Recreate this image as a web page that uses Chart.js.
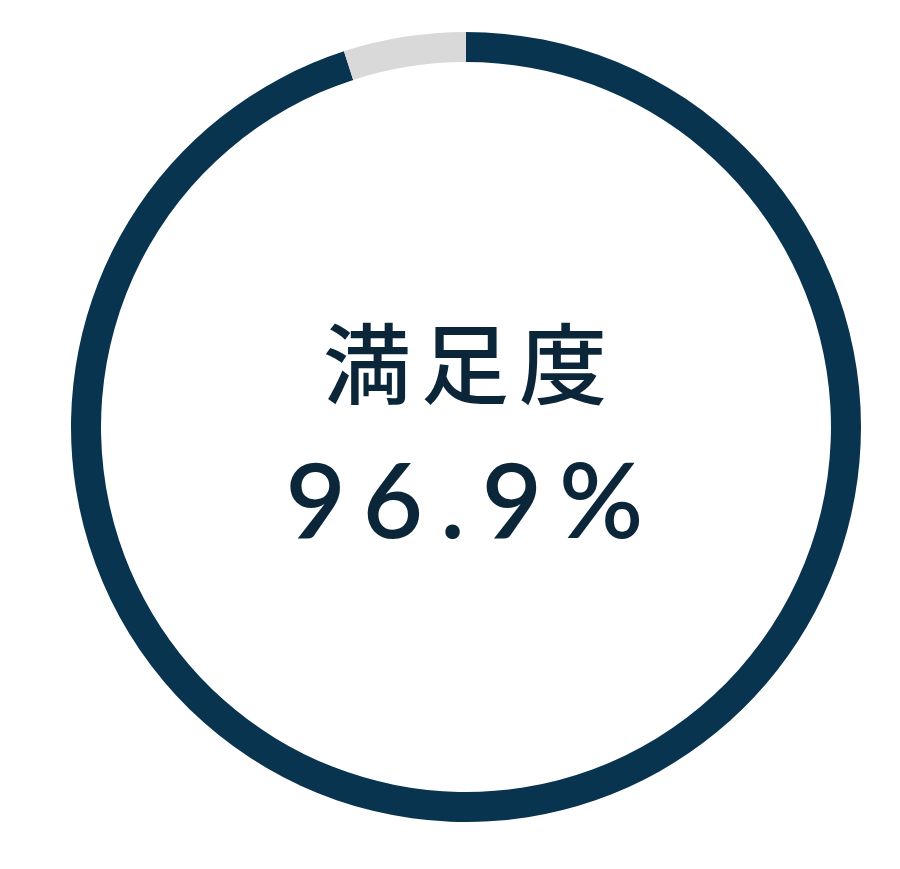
<!DOCTYPE html>
<html>
<head>
<meta charset="utf-8">
<script src="https://cdn.jsdelivr.net/npm/chart.js@4/dist/chart.umd.min.js"></script>
<style>
  html, body { margin: 0; padding: 0; background: #ffffff; width: 900px; height: 869px; overflow: hidden; }
  #wrap { position: absolute; left: 71px; top: 32px; width: 790px; height: 790px; }
  .lbl { position: absolute; left: 0; width: 900px; text-align: center; color: #0c2639; white-space: nowrap; box-sizing: border-box; }
  #title { top: 304px; font-family: "Noto Sans CJK JP", "Noto Sans CJK SC", sans-serif; font-weight: 500; font-size: 88px; line-height: 110px; letter-spacing: 10px; padding-left: 40px; }
  #value { top: 433px; font-family: Lato, "Open Sans", sans-serif; font-weight: 600; font-size: 104px; line-height: 130px; letter-spacing: 17px; padding-left: 46px; }
</style>
</head>
<body>
<div id="wrap"><canvas id="c"></canvas></div>
<div id="title" class="lbl">満足度</div>
<div id="value" class="lbl">96.9%</div>
<script>
const categories = ["満足", "その他"];
const shares = [95, 5];
const colors = ["#08344f", "#d9d9d9"];
const centerTitle = "満足度";
const centerValue = "96.9%";

document.getElementById('title').textContent = centerTitle;
document.getElementById('value').textContent = centerValue;

new Chart(document.getElementById('c'), {
  type: 'doughnut',
  data: {
    labels: categories,
    datasets: [{
      data: shares,
      backgroundColor: colors,
      borderWidth: 0,
      hoverOffset: 0
    }]
  },
  options: {
    responsive: true,
    maintainAspectRatio: false,
    animation: false,
    cutout: '92.4%',
    rotation: 0,
    layout: { padding: 0 },
    plugins: { legend: { display: false }, tooltip: { enabled: false } }
  }
});
</script>
</body>
</html>
